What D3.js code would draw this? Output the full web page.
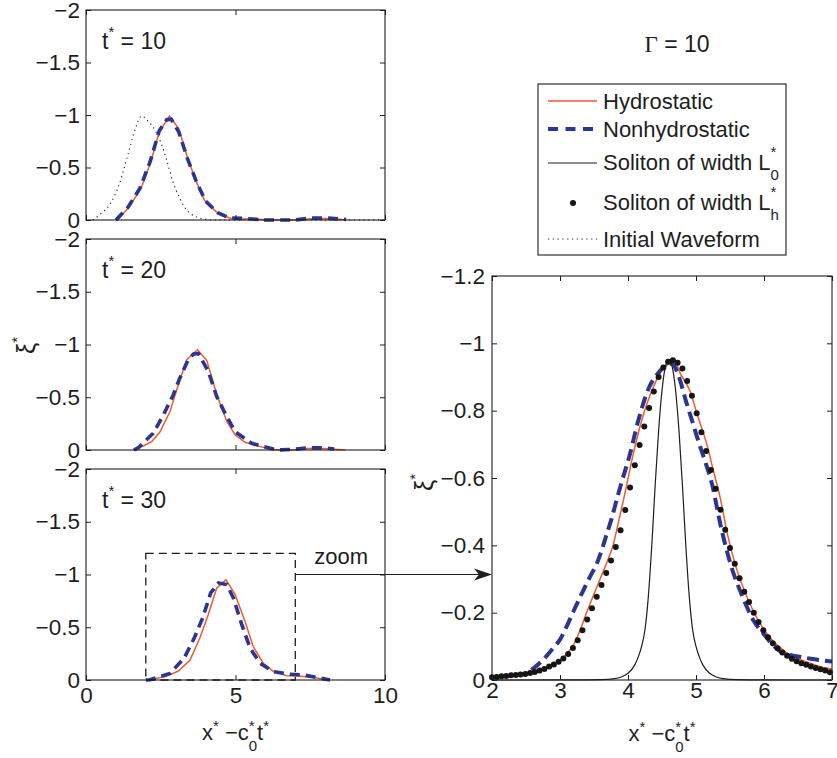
<!DOCTYPE html>
<html>
<head>
<meta charset="utf-8">
<script src="https://cdn.jsdelivr.net/npm/d3@7"></script>
<style>body{margin:0;background:#fff}</style>
</head>
<body>
<svg id="fig" width="837" height="758"></svg>
<script>
// ---- tick values ----
const leftXTicks = [0, 5, 10];
const leftYTicks = [0, -0.5, -1, -1.5, -2];
const rightXTicks = [2, 3, 4, 5, 6, 7];
const rightYTicks = [0, -0.2, -0.4, -0.6, -0.8, -1, -1.2];
const panelTimes = [10, 20, 30];
const gammaValue = 10;

// ---- t* = 10 ----
const hydro10X = [1.06, 1.45, 1.84, 2.17, 2.45, 2.79, 3.10, 3.40, 3.68, 3.96, 4.35, 4.79, 5.2, 5.6, 6.1, 7.0, 7.5, 8.0, 8.4, 8.7];
const hydro10Y = [0, -0.127, -0.30, -0.555, -0.84, -0.99, -0.87, -0.59, -0.37, -0.19, -0.08, -0.02, -0.01, -0.012, 0, 0, -0.012, -0.015, -0.01, 0];
const nonhydro10X = [1.0, 1.4, 1.8, 2.15, 2.45, 2.7, 2.85, 3.1, 3.4, 3.7, 4.0, 4.4, 4.8, 5.3, 6.0, 7.0, 7.5, 8.0, 8.7];
const nonhydro10Y = [0, -0.12, -0.3, -0.56, -0.85, -0.955, -0.96, -0.84, -0.58, -0.36, -0.18, -0.07, -0.02, -0.015, 0, 0, -0.018, -0.02, -0.005];
const initialX = [0.23, 0.5, 0.8, 1.1, 1.4, 1.65, 1.86, 2.08, 2.34, 2.5, 2.7, 2.9, 3.1, 3.3, 3.5, 3.8, 4.2, 10];
const initialY = [0, -0.06, -0.15, -0.33, -0.62, -0.87, -0.99, -0.94, -0.84, -0.74, -0.57, -0.37, -0.23, -0.12, -0.06, -0.02, 0, 0];

// ---- t* = 20 ----
const hydro20X = [1.64, 2.20, 2.47, 2.81, 3.09, 3.37, 3.73, 4.04, 4.38, 4.71, 4.99, 5.32, 5.82, 6.38, 6.9, 7.4, 8.0, 8.66];
const hydro20Y = [0, -0.08, -0.17, -0.365, -0.62, -0.857, -0.95, -0.848, -0.52, -0.27, -0.143, -0.073, -0.032, 0, 0, -0.015, -0.015, 0];
const nonhydro20X = [1.6, 1.75, 2.25, 2.59, 2.92, 3.14, 3.42, 3.6, 3.76, 4.09, 4.37, 4.65, 4.98, 5.54, 5.93, 6.4, 6.9, 7.4, 8.0, 8.3];
const nonhydro20Y = [0, -0.022, -0.159, -0.333, -0.524, -0.683, -0.857, -0.91, -0.914, -0.746, -0.508, -0.349, -0.175, -0.064, -0.032, 0, -0.005, -0.02, -0.02, -0.01];

// ---- t* = 30 ----
const hydro30X = [2.0, 2.14, 2.64, 3.09, 3.48, 3.81, 4.09, 4.37, 4.68, 4.98, 5.32, 5.59, 5.93, 6.27, 6.71, 7.05, 7.6, 8.05];
const hydro30Y = [0, -0.006, -0.03, -0.085, -0.19, -0.40, -0.62, -0.87, -0.95, -0.815, -0.555, -0.317, -0.159, -0.08, -0.041, -0.038, -0.025, 0];
const nonhydro30X = [2.0, 2.14, 2.81, 3.28, 3.62, 3.9, 4.17, 4.43, 4.71, 4.93, 5.21, 5.49, 5.82, 6.27, 6.82, 7.27, 7.7, 8.16];
const nonhydro30Y = [0, -0.003, -0.063, -0.206, -0.397, -0.587, -0.825, -0.92, -0.905, -0.778, -0.524, -0.302, -0.159, -0.079, -0.054, -0.048, -0.025, 0];

// ---- enlarged window, t* = 30 ----
const zoomHydroX = [2.0, 2.5, 2.8, 3.0, 3.1, 3.2, 3.3, 3.39, 3.5, 3.6, 3.7, 3.78, 3.85, 3.95, 4.07, 4.2, 4.37, 4.5, 4.6, 4.68, 4.77, 4.91, 5.03, 5.157, 5.254, 5.353, 5.46, 5.588, 5.77, 6.04, 6.28, 6.5, 6.69, 6.85, 7.0];
const zoomHydroY = [-0.008, -0.018, -0.035, -0.058, -0.078, -0.105, -0.15, -0.20, -0.255, -0.305, -0.355, -0.40, -0.46, -0.55, -0.665, -0.77, -0.869, -0.92, -0.94, -0.948, -0.91, -0.859, -0.781, -0.702, -0.623, -0.544, -0.435, -0.336, -0.237, -0.138, -0.089, -0.063, -0.049, -0.038, -0.033];
const zoomNonhydroX = [2.58, 2.75, 2.90, 3.0, 3.1, 3.2, 3.34, 3.45, 3.54, 3.62, 3.69, 3.76, 3.83, 3.91, 4.03, 4.15, 4.31, 4.47, 4.56, 4.64, 4.75, 4.85, 4.95, 5.05, 5.15, 5.25, 5.30, 5.35, 5.42, 5.5, 5.7, 5.85, 5.99, 6.15, 6.28, 6.5, 6.69, 7.0];
const zoomNonhydroY = [-0.03, -0.06, -0.095, -0.12, -0.16, -0.205, -0.265, -0.31, -0.345, -0.39, -0.435, -0.48, -0.533, -0.59, -0.672, -0.77, -0.869, -0.918, -0.935, -0.94, -0.90, -0.83, -0.765, -0.70, -0.64, -0.57, -0.52, -0.47, -0.41, -0.35, -0.24, -0.175, -0.138, -0.10, -0.08, -0.07, -0.063, -0.055];
const solitonL0X = [2.0, 3.2, 3.6, 3.8, 3.9, 4.0, 4.1, 4.15, 4.2, 4.25, 4.3, 4.35, 4.4, 4.45, 4.5, 4.55, 4.6, 4.65, 4.7, 4.75, 4.8, 4.85, 4.9, 4.95, 5.0, 5.05, 5.1, 5.2, 5.3, 5.4, 5.6, 6.0, 7.0];
const solitonL0Y = [0, -0.0001, -0.001, -0.004, -0.009, -0.02, -0.045, -0.068, -0.10, -0.15, -0.25, -0.40, -0.58, -0.74, -0.86, -0.93, -0.95, -0.93, -0.86, -0.74, -0.58, -0.40, -0.25, -0.15, -0.10, -0.068, -0.045, -0.02, -0.009, -0.004, -0.001, -0.0001, 0];
const solitonLhX = [2.00, 2.07, 2.14, 2.21, 2.28, 2.35, 2.42, 2.49, 2.56, 2.63, 2.70, 2.77, 2.84, 2.91, 2.98, 3.05, 3.12, 3.19, 3.26, 3.33, 3.40, 3.47, 3.54, 3.61, 3.68, 3.75, 3.82, 3.89, 3.96, 4.03, 4.10, 4.17, 4.24, 4.31, 4.38, 4.45, 4.52, 4.59, 4.66, 4.73, 4.80, 4.87, 4.94, 5.01, 5.08, 5.15, 5.22, 5.29, 5.36, 5.43, 5.50, 5.57, 5.64, 5.71, 5.78, 5.85, 5.92, 5.99, 6.06, 6.13, 6.20, 6.27, 6.34, 6.41, 6.48, 6.55, 6.62, 6.69, 6.76, 6.83, 6.90, 6.97];
const solitonLhY = [-0.008, -0.009, -0.011, -0.012, -0.014, -0.015, -0.016, -0.018, -0.021, -0.024, -0.028, -0.033, -0.040, -0.046, -0.054, -0.064, -0.077, -0.095, -0.118, -0.148, -0.180, -0.213, -0.247, -0.282, -0.318, -0.355, -0.395, -0.445, -0.505, -0.572, -0.638, -0.698, -0.753, -0.808, -0.857, -0.900, -0.928, -0.945, -0.950, -0.942, -0.925, -0.888, -0.844, -0.792, -0.736, -0.680, -0.624, -0.568, -0.506, -0.446, -0.392, -0.345, -0.302, -0.262, -0.232, -0.200, -0.172, -0.148, -0.127, -0.109, -0.094, -0.082, -0.072, -0.063, -0.056, -0.050, -0.045, -0.040, -0.036, -0.032, -0.028, -0.023];

// ---- styling ----
const FONT = "'Liberation Sans', Arial, Helvetica, sans-serif";
const SERIF = "'Liberation Serif', 'Times New Roman', serif";
const INK = "#1e1e1e";
const ORANGE = "#ef5a2e";
const BLUE = "#2b3592";

const svg = d3.select("#fig");
svg.append("rect").attr("width", 837).attr("height", 758).attr("fill", "#fff");

const pts = (xs, ys) => xs.map((x, i) => [x, ys[i]]);

// text with super/subscripts; a part flagged `over` sits at the x of the previous part
function rich(parent, parts, o) {
  const g = parent.append("g");
  let x = 0, prevStart = 0;
  parts.forEach(p => {
    const kind = p.k || "n";
    const size = p.size || (kind === "n" ? o.size : o.small);
    const dy = kind === "sup" ? o.sup : kind === "sub" ? o.sub : 0;
    const start = p.over ? prevStart : x;
    const t = g.append("text").attr("x", start).attr("y", dy)
      .attr("font-family", p.serif ? SERIF : FONT).attr("font-size", size)
      .attr("fill", INK).style("white-space", "pre").text(p.t);
    const w = t.node().getComputedTextLength();
    x = p.over ? Math.max(x, start + w) : start + w;
    prevStart = start;
  });
  return { g, width: x };
}
function placeRich(parts, o, px, py, anchor, rotate) {
  const r = rich(svg, parts, o);
  const shift = anchor === "middle" ? -r.width / 2 : 0;
  r.g.attr("transform", rotate
    ? `translate(${px},${py}) rotate(-90) translate(${shift},0)`
    : `translate(${px + shift},${py})`);
  return r;
}

const xiLabel = [{ t: "\u03BE", size: 25 }, { t: "*", k: "sup" }];
const xiStyle = { size: 22, small: 15, sup: -13, sub: 10 };
const xLabelParts = [{ t: "x" }, { t: "*", k: "sup" }, { t: " \u2212c" }, { t: "0", k: "sub" }, { t: "*", k: "sup", over: true }, { t: "t" }, { t: "*", k: "sup" }];
const xLabelStyle = { size: 22, small: 15, sup: -9, sub: 11 };

function drawFrame(g, x, y, xt, yt, xLabels, xPad, yPad) {
  const [x0, x1] = x.range();
  const [yb, yt0] = y.range();
  const fmt = d => d === 0 ? "0" : d3.format("")(d);
  const styleAxis = sel => {
    sel.select(".domain").remove();
    sel.selectAll("line").attr("stroke", INK);
    sel.selectAll("text").attr("font-size", 22.5).attr("font-family", FONT).attr("fill", INK);
  };
  g.append("g").attr("transform", `translate(0,${yb})`)
    .call(d3.axisBottom(x).tickValues(xt).tickSize(-5).tickPadding(xPad).tickFormat(xLabels ? fmt : () => ""))
    .call(styleAxis);
  g.append("g").attr("transform", `translate(0,${yt0})`)
    .call(d3.axisTop(x).tickValues(xt).tickSize(-5).tickFormat(() => ""))
    .call(styleAxis);
  g.append("g").attr("transform", `translate(${x0},0)`)
    .call(d3.axisLeft(y).tickValues(yt).tickSize(-5).tickPadding(yPad).tickFormat(fmt))
    .call(styleAxis);
  g.append("g").attr("transform", `translate(${x1},0)`)
    .call(d3.axisRight(y).tickValues(yt).tickSize(-5).tickFormat(() => ""))
    .call(styleAxis);
  g.append("rect").attr("x", x0).attr("y", yt0).attr("width", x1 - x0).attr("height", yb - yt0)
    .attr("fill", "none").attr("stroke", INK).attr("stroke-width", 1.1);
}

// ---- three time panels ----
const leftX = d3.scaleLinear().domain([0, 10]).range([86, 385]);
const panels = [
  { top: 10, bottom: 220, hx: hydro10X, hy: hydro10Y, nx: nonhydro10X, ny: nonhydro10Y },
  { top: 239, bottom: 450, hx: hydro20X, hy: hydro20Y, nx: nonhydro20X, ny: nonhydro20Y },
  { top: 469, bottom: 680, hx: hydro30X, hy: hydro30Y, nx: nonhydro30X, ny: nonhydro30Y }
];
let bottomY;
panels.forEach((p, i) => {
  const y = d3.scaleLinear().domain([0, -2]).range([p.bottom, p.top]);
  const g = svg.append("g");
  const line = d3.line().x(d => leftX(d[0])).y(d => y(d[1]));
  if (i === 0) {
    g.append("path").attr("d", line.curve(d3.curveMonotoneX)(pts(initialX, initialY)))
      .attr("fill", "none").attr("stroke", INK).attr("stroke-width", 1.1).attr("stroke-dasharray", "1.2,3.6");
    line.curve(d3.curveLinear);
  }
  g.append("path").attr("d", line(pts(p.hx, p.hy)))
    .attr("fill", "none").attr("stroke", ORANGE).attr("stroke-width", 1.5);
  g.append("path").attr("d", line(pts(p.nx, p.ny)))
    .attr("fill", "none").attr("stroke", BLUE).attr("stroke-width", 3.6).attr("stroke-dasharray", "10,6");
  drawFrame(g, leftX, y, leftXTicks, leftYTicks, i === 2, 7, 6);
  placeRich([{ t: "t" }, { t: "*", k: "sup" }, { t: " = " + panelTimes[i] }],
    { size: 23, small: 15, sup: -12, sub: 10 }, 102, p.top + 38.5, "start");
  if (i === 2) bottomY = y;
});

placeRich(xiLabel, xiStyle, 35, 354, "start", true);
placeRich(xLabelParts, xLabelStyle, leftX(5), 740, "middle");

// ---- enlarged window ----
const rx = d3.scaleLinear().domain([2, 7]).range([492, 832]);
const ry = d3.scaleLinear().domain([0, -1.2]).range([680, 276]);
const rg = svg.append("g");
const rline = d3.line().x(d => rx(d[0])).y(d => ry(d[1])).curve(d3.curveMonotoneX);
rg.append("path").attr("d", rline(pts(zoomHydroX, zoomHydroY)))
  .attr("fill", "none").attr("stroke", ORANGE).attr("stroke-width", 1.5);
rg.append("path").attr("d", rline(pts(zoomNonhydroX, zoomNonhydroY)))
  .attr("fill", "none").attr("stroke", BLUE).attr("stroke-width", 4).attr("stroke-dasharray", "12,6");
rg.append("path").attr("d", rline(pts(solitonL0X, solitonL0Y)))
  .attr("fill", "none").attr("stroke", INK).attr("stroke-width", 1.2);
rg.selectAll("circle.lh").data(pts(solitonLhX, solitonLhY)).join("circle").attr("class", "lh")
  .attr("cx", d => rx(d[0])).attr("cy", d => ry(d[1])).attr("r", 3.0).attr("fill", "#151515");
drawFrame(rg, rx, ry, rightXTicks, rightYTicks, true, 2, 7);

placeRich(xiLabel, xiStyle, 433, 491, "start", true);
placeRich(xLabelParts, xLabelStyle, rx(4.5), 741, "middle");

// title
placeRich([{ t: "\u0393", serif: true }, { t: " = " + gammaValue }], { size: 23, small: 15, sup: -12, sub: 10 }, 677, 52, "middle");

// ---- zoom window marker and arrow ----
svg.append("rect").attr("x", leftX(2)).attr("y", bottomY(-1.2))
  .attr("width", leftX(7) - leftX(2)).attr("height", bottomY(0) - bottomY(-1.2))
  .attr("fill", "none").attr("stroke", INK).attr("stroke-width", 1.3).attr("stroke-dasharray", "8,5");
const ay = bottomY(-1);
svg.append("line").attr("x1", leftX(7)).attr("x2", rx(2) - 12).attr("y1", ay).attr("y2", ay)
  .attr("stroke", INK).attr("stroke-width", 1);
svg.append("path")
  .attr("d", `M${rx(2)},${ay} L${rx(2) - 18},${ay - 6} L${rx(2) - 13},${ay} L${rx(2) - 18},${ay + 6} Z`)
  .attr("fill", INK);
svg.append("text").attr("x", leftX(7) + 19).attr("y", bottomY(-1.2) + 11)
  .attr("font-family", FONT).attr("font-size", 22).attr("fill", INK).text("zoom");

// ---- legend ----
const lg = svg.append("g");
lg.append("rect").attr("x", 538).attr("y", 84).attr("width", 248).attr("height", 171)
  .attr("fill", "#fff").attr("stroke", INK).attr("stroke-width", 1.1);
const legendStyle = { size: 22, small: 15, sup: -13, sub: 10 };
const legendRows = [
  { y: 101, base: 109, parts: [{ t: "Hydrostatic" }], draw: (g, y) => g.append("line").attr("x1", 548).attr("x2", 597).attr("y1", y).attr("y2", y).attr("stroke", ORANGE).attr("stroke-width", 1.5) },
  { y: 129, base: 137, parts: [{ t: "Nonhydrostatic" }], draw: (g, y) => g.append("line").attr("x1", 548).attr("x2", 597).attr("y1", y).attr("y2", y).attr("stroke", BLUE).attr("stroke-width", 4).attr("stroke-dasharray", "10,7.5") },
  { y: 163, base: 170, parts: [{ t: "Soliton of width L" }, { t: "0", k: "sub" }, { t: "*", k: "sup", over: true }], draw: (g, y) => g.append("line").attr("x1", 548).attr("x2", 597).attr("y1", y).attr("y2", y).attr("stroke", INK).attr("stroke-width", 1.2) },
  { y: 203, base: 210, parts: [{ t: "Soliton of width L" }, { t: "h", k: "sub" }, { t: "*", k: "sup", over: true }], draw: (g, y) => g.append("circle").attr("cx", 573).attr("cy", y).attr("r", 3.0).attr("fill", "#151515") },
  { y: 239, base: 247, parts: [{ t: "Initial Waveform" }], draw: (g, y) => g.append("line").attr("x1", 548).attr("x2", 597).attr("y1", y).attr("y2", y).attr("stroke", INK).attr("stroke-width", 1).attr("stroke-dasharray", "1.2,3.6") }
];
legendRows.forEach(r => {
  r.draw(lg, r.y);
  placeRich(r.parts, legendStyle, 603, r.base, "start");
});
</script>
</body>
</html>
